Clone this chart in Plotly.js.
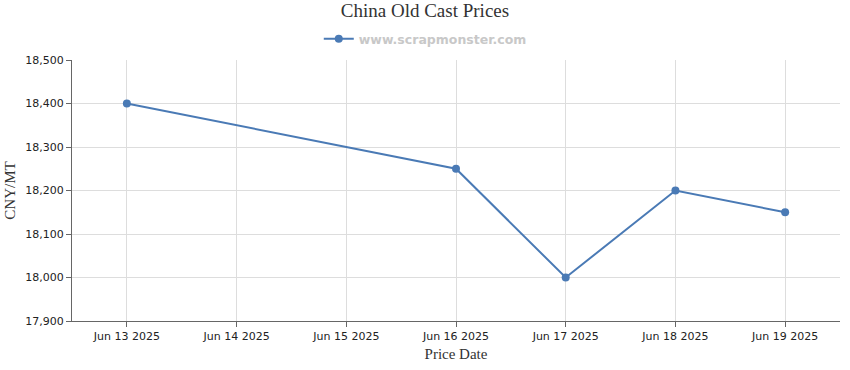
<!DOCTYPE html>
<html><head><meta charset="utf-8">
<script src="https://cdn.plot.ly/plotly-3.0.1.min.js"></script>
<style>html,body{margin:0;padding:0;background:#fff}#c{width:850px;height:370px}</style>
</head><body><div id="c"></div>
<script>
const dates = ["2025-06-13","2025-06-16","2025-06-17","2025-06-18","2025-06-19"];
const prices = [18400, 18250, 18000, 18200, 18150];
const tickDates = ["2025-06-13","2025-06-14","2025-06-15","2025-06-16","2025-06-17","2025-06-18","2025-06-19"];
const tickLabels = ["Jun 13 2025","Jun 14 2025","Jun 15 2025","Jun 16 2025","Jun 17 2025","Jun 18 2025","Jun 19 2025"];
const yTicks = [17900,18000,18100,18200,18300,18400,18500];

const trace = {
  x: dates, y: prices, type: 'scatter', mode: 'lines+markers',
  name: 'www.scrapmonster.com',
  line: {color: '#4a7ab5', width: 2},
  marker: {color: '#4a7ab5', size: 8, symbol: 'circle'}
};
const layout = {
  width: 850, height: 370,
  margin: {l: 72, r: 10, t: 60, b: 49},
  paper_bgcolor: '#fff', plot_bgcolor: '#fff',
  title: {text: 'China Old Cast Prices', x: 0.5, xanchor: 'center', y: 0.99, yanchor: 'top',
          font: {family: 'Liberation Serif, Times New Roman, serif', size: 19, color: '#333'}},
  showlegend: true,
  legend: {orientation: 'h', x: 0.46, xanchor: 'center', y: 1.08, yanchor: 'middle',
           font: {family: 'DejaVu Sans, Verdana, sans-serif', size: 12.5, color: '#c8c8c8', weight: 'bold'},
           itemwidth: 30},
  xaxis: {
    type: 'date', range: ['2025-06-12 12:00', '2025-06-19 12:00'],
    tickmode: 'array', tickvals: tickDates, ticktext: tickLabels,
    showgrid: true, gridcolor: '#dddddd', gridwidth: 1,
    showline: true, linecolor: '#666', linewidth: 1,
    ticks: 'outside', ticklen: 5, tickcolor: '#666',
    tickfont: {family: 'DejaVu Sans, Verdana, sans-serif', size: 11, color: '#222'},
    zeroline: false,
    title: {text: 'Price Date', standoff: 6, font: {family: 'Liberation Serif, Times New Roman, serif', size: 15, color: '#333'}}
  },
  yaxis: {
    range: [17900, 18500], tickmode: 'array', tickvals: yTicks,
    tickformat: ',d',
    showgrid: true, gridcolor: '#dddddd', gridwidth: 1,
    showline: true, linecolor: '#666', linewidth: 1,
    ticks: 'outside', ticklen: 5, tickcolor: '#666',
    tickfont: {family: 'DejaVu Sans, Verdana, sans-serif', size: 11, color: '#222'},
    zeroline: false,
    title: {text: 'CNY/MT', standoff: 6, font: {family: 'Liberation Serif, Times New Roman, serif', size: 15, color: '#333'}}
  }
};
Plotly.newPlot('c', [trace], layout, {displayModeBar: false, staticPlot: true});
</script></body></html>
